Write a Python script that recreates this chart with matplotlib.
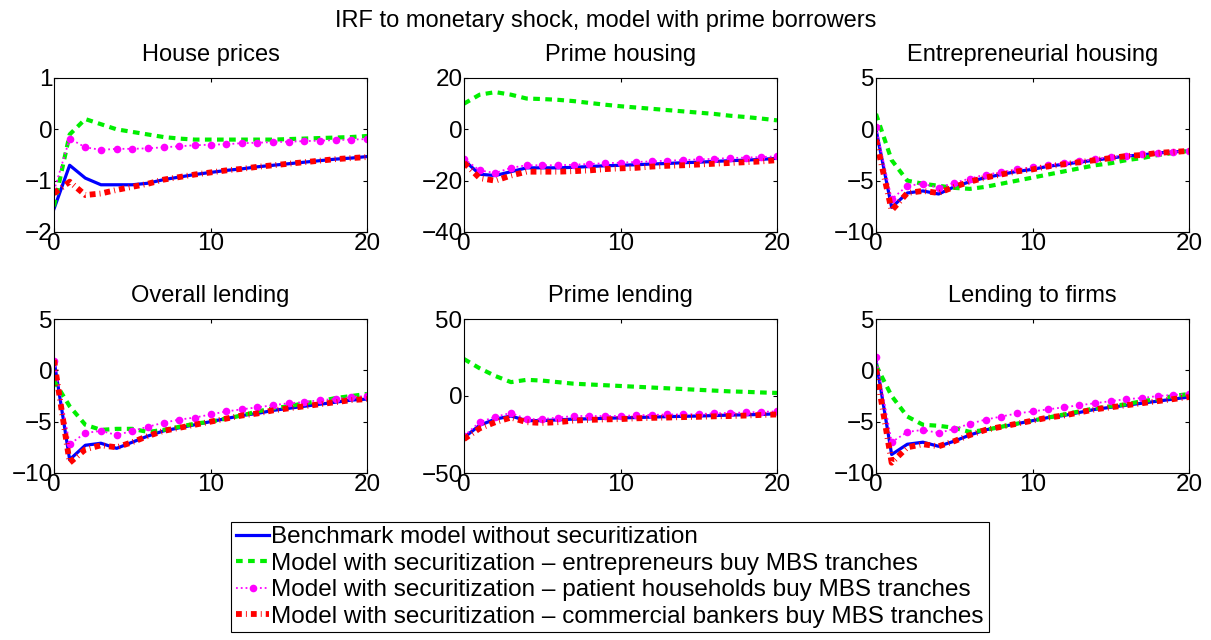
import matplotlib
matplotlib.use("Agg")
import matplotlib.pyplot as plt

plt.rcParams["font.family"] = ["Liberation Sans", "DejaVu Sans"]

PERIODS = list(range(21))

TITLES = [
  "House prices", "Prime housing", "Entrepreneurial housing",
  "Overall lending", "Prime lending", "Lending to firms",
]

YLIMS = [(-2, 1), (-40, 20), (-10, 5), (-10, 5), (-50, 50), (-10, 5)]
YTICKS = [
  [-2, -1, 0, 1], [-40, -20, 0, 20], [-10, -5, 0, 5],
  [-10, -5, 0, 5], [-50, 0, 50], [-10, -5, 0, 5],
]

LABELS = [
  "Benchmark model without securitization",
  "Model with securitization \u2013 entrepreneurs buy MBS tranches",
  "Model with securitization \u2013 patient households buy MBS tranches",
  "Model with securitization \u2013 commercial bankers buy MBS tranches",
]

# benchmark (blue)
benchmark = [
  [-1.55, -0.70, -0.95, -1.08, -1.08, -1.08, -1.05, -0.98, -0.93, -0.88, -0.84,
   -0.80, -0.77, -0.73, -0.70, -0.67, -0.64, -0.61, -0.58, -0.56, -0.53],
  [-12, -17.5, -18, -16.5, -15, -15, -15, -14.8, -14.5, -14.2, -14,
   -13.8, -13.5, -13.3, -13, -12.8, -12.5, -12.2, -12, -11.7, -11.3],
  [0, -7.6, -6.2, -6.0, -6.3, -5.6, -5.1, -4.7, -4.4, -4.1, -3.9,
   -3.6, -3.4, -3.2, -3.0, -2.8, -2.6, -2.5, -2.3, -2.2, -2.1],
  [1, -8.7, -7.3, -7.1, -7.6, -7.0, -6.4, -5.9, -5.6, -5.3, -5.0,
   -4.7, -4.4, -4.2, -3.9, -3.7, -3.5, -3.3, -3.1, -2.9, -2.8],
  [-27, -19, -15, -13, -16, -16, -15.5, -15, -14.8, -14.5, -14.2,
   -14, -13.7, -13.4, -13.2, -13, -12.7, -12.4, -12.2, -12, -11.5],
  [1, -8.2, -7.2, -7.0, -7.4, -6.9, -6.3, -5.8, -5.5, -5.2, -4.9,
   -4.6, -4.4, -4.1, -3.8, -3.6, -3.4, -3.2, -3.0, -2.8, -2.6],
]

# entrepreneurs buy MBS (green)
entrepreneurs = [
  [-1.5, -0.1, 0.2, 0.1, 0.0, -0.05, -0.1, -0.15, -0.18, -0.2, -0.2,
   -0.2, -0.2, -0.2, -0.2, -0.19, -0.18, -0.17, -0.16, -0.15, -0.13],
  [10, 13.5, 14.5, 13.5, 12, 11.8, 11.5, 11, 10.3, 9.6, 9,
   8.5, 8, 7.5, 7, 6.5, 6, 5.3, 4.8, 4.2, 3.5],
  [1.5, -3.0, -5.0, -5.3, -5.5, -5.7, -5.8, -5.6, -5.3, -5.0, -4.7,
   -4.4, -4.1, -3.8, -3.5, -3.3, -3.0, -2.8, -2.5, -2.3, -2.1],
  [-1.0, -3.5, -5.3, -5.8, -5.7, -5.7, -6.0, -5.8, -5.5, -5.2, -5.0,
   -4.7, -4.4, -4.0, -3.7, -3.5, -3.2, -3.0, -2.7, -2.5, -2.3],
  [24, 18, 13, 9, 10.5, 10, 9, 8, 7.5, 7, 6.5,
   6, 5.5, 5, 4.5, 4, 3.5, 3, 2.7, 2.3, 2],
  [0.5, -2.5, -4.5, -5.3, -5.4, -5.6, -6.0, -5.8, -5.5, -5.2, -4.9,
   -4.6, -4.3, -4.0, -3.7, -3.5, -3.3, -3.0, -2.8, -2.5, -2.3],
]

# patient households buy MBS (magenta)
households = [
  [-1.2, -0.18, -0.35, -0.4, -0.38, -0.38, -0.37, -0.35, -0.33, -0.31, -0.3,
   -0.29, -0.27, -0.26, -0.25, -0.24, -0.23, -0.22, -0.21, -0.2, -0.19],
  [-11.5, -16, -17, -15, -14, -14, -14, -13.8, -13.5, -13.2, -13,
   -12.7, -12.5, -12.2, -12, -11.7, -11.5, -11.2, -11, -10.8, -10.5],
  [0.2, -6.8, -5.5, -5.3, -5.7, -5.2, -4.8, -4.4, -4.2, -3.9, -3.7,
   -3.5, -3.3, -3.1, -2.9, -2.7, -2.6, -2.4, -2.3, -2.2, -2.1],
  [0.9, -7.2, -6.1, -5.9, -6.3, -5.9, -5.5, -5.1, -4.8, -4.6, -4.3,
   -4.0, -3.8, -3.6, -3.4, -3.2, -3.1, -2.9, -2.8, -2.6, -2.5],
  [-26, -17, -13.5, -11, -15, -15, -14, -13, -13, -13, -13,
   -12.5, -12.3, -12, -12, -11.7, -11.3, -11, -10.7, -10.3, -10],
  [1.3, -7.0, -6.0, -5.8, -6.1, -5.7, -5.2, -4.8, -4.5, -4.2, -4.0,
   -3.8, -3.6, -3.4, -3.2, -3.0, -2.8, -2.7, -2.5, -2.4, -2.3],
]

# commercial bankers buy MBS (red)
bankers = [
  [-1.25, -1.02, -1.28, -1.25, -1.18, -1.12, -1.06, -0.98, -0.93, -0.88, -0.84,
   -0.80, -0.77, -0.73, -0.70, -0.67, -0.64, -0.61, -0.58, -0.56, -0.54],
  [-13, -19, -20, -18, -16.5, -16.5, -16.5, -16.3, -16, -15.5, -15.2,
   -15, -14.5, -14.2, -14, -13.7, -13.4, -13.1, -12.8, -12.5, -12],
  [-1.0, -7.9, -6.2, -6.0, -6.2, -5.6, -5.1, -4.7, -4.4, -4.1, -3.9,
   -3.6, -3.4, -3.2, -3.0, -2.8, -2.6, -2.5, -2.3, -2.2, -2.1],
  [1.0, -9.0, -7.7, -7.3, -7.5, -7.0, -6.4, -5.9, -5.6, -5.3, -5.0,
   -4.7, -4.4, -4.2, -3.9, -3.7, -3.5, -3.3, -3.1, -2.9, -2.8],
  [-28, -21, -17, -14, -17, -17.5, -17, -16, -15.5, -15.2, -15,
   -14.5, -14.2, -14, -13.7, -13.5, -13.2, -13, -12.7, -12.3, -12],
  [0.1, -9.0, -7.5, -7.2, -7.4, -6.9, -6.3, -5.8, -5.5, -5.2, -4.9,
   -4.6, -4.4, -4.1, -3.8, -3.6, -3.4, -3.2, -3.0, -2.8, -2.6],
]

fig = plt.figure(figsize=(12.11, 6.40), dpi=100)
W, H = 1211.0, 640.0
lefts = [54, 464, 876]
tops = [78, 319]
aw, ah = 313, 154

handles = []
for i in range(6):
  r, c = divmod(i, 3)
  ax = fig.add_axes([lefts[c] / W, 1 - (tops[r] + ah) / H, aw / W, ah / H])
  h1, = ax.plot(PERIODS, benchmark[i], color="#0000ff", lw=2.3)
  h2, = ax.plot(PERIODS, entrepreneurs[i], color="#00ee00", lw=3.0,
                linestyle=(0, (1.6, 1.3)))
  h3, = ax.plot(PERIODS, households[i], color="#ff00ff", lw=1.3,
                linestyle=":", marker="o", markersize=5.5, markeredgewidth=0)
  h4, = ax.plot(PERIODS, bankers[i], color="#ff0000", lw=4.2,
                linestyle=(0, (1.0, 0.7, 0.15, 0.7)))
  handles = [h1, h2, h3, h4]
  ax.set_xlim(0, 20)
  ax.set_xticks([0, 10, 20])
  ax.set_ylim(*YLIMS[i])
  ax.set_yticks(YTICKS[i])
  ax.tick_params(direction="in", top=True, right=True, labelsize=17.5,
                 length=3, width=0.8, pad=1)
  ax.set_title(TITLES[i], fontsize=17, pad=12)
  for s in ax.spines.values():
    s.set_linewidth(0.8)

fig.suptitle("IRF to monetary shock, model with prime borrowers",
             fontsize=17, y=1 - 10 / H, va="top")

leg = fig.legend(
  handles, LABELS, loc="center",
  bbox_to_anchor=(610 / W, 1 - 577 / H),
  fontsize=17.5, handlelength=1.35, handletextpad=0.1,
  labelspacing=0.18, borderpad=0.2, borderaxespad=0,
  fancybox=False, edgecolor="black", framealpha=1,
)
leg.get_frame().set_linewidth(0.8)

plt.savefig("out.png", dpi=100)
plt.close()
